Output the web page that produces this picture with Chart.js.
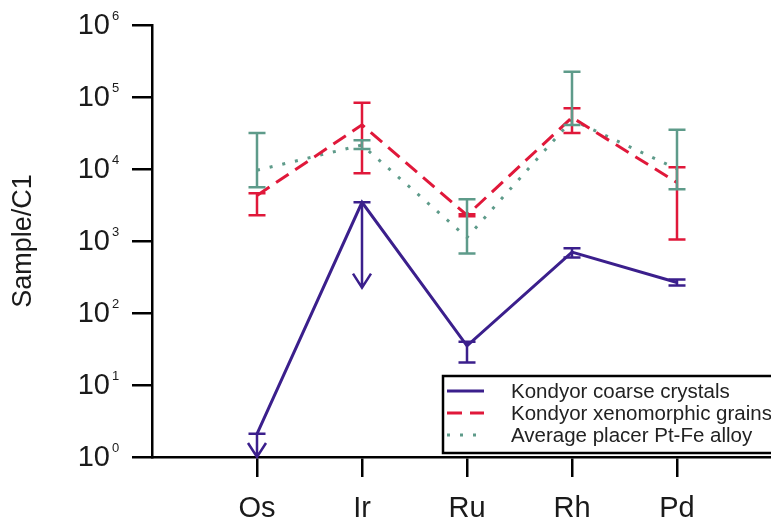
<!DOCTYPE html>
<html>
<head>
<meta charset="utf-8">
<script src="https://cdn.jsdelivr.net/npm/chart.js@4"></script>
<style>
  html, body { margin: 0; padding: 0; background: #fff; overflow: hidden; }
</style>
</head>
<body>
<canvas id="chart" width="771" height="521"></canvas>
<script>
// categories and values
const categories = ["Os", "Ir", "Ru", "Rh", "Pd"];
const yTicks = [1, 10, 100, 1000, 10000, 100000, 1000000];

const coarse = [2.1, 3450, 35, 700, 265];
const coarseLow = [1, 225, 20.5, 590, 240];
const coarseHigh = [2.1, 3450, 40, 790, 292];
const coarseArrow = [true, true, false, false, false];

const xeno = [4300, 41000, 2280, 52000, 6500];
const xenoLow = [2270, 8700, 2200, 31500, 1050];
const xenoHigh = [4600, 83000, 2350, 70000, 10600];

const placer = [9600, 21500, 1120, 48000, 10000];
const placerLow = [5600, 19000, 670, 41000, 5250];
const placerHigh = [31500, 25000, 3800, 224000, 35000];

const BLUE = "#3b1f8c";
const RED = "#e0183a";
const GREEN = "#5e9b8a";
const FONT = "'Liberation Sans', Arial, sans-serif";

const toPoints = (arr) => arr.map((v, i) => ({ x: i + 1, y: v }));

// error bars + upper-limit arrows
const errorBars = {
  id: "errorBars",
  afterDatasetsDraw(chart) {
    const ctx = chart.ctx;
    const ys = chart.scales.y;
    chart.data.datasets.forEach((ds, di) => {
      const meta = chart.getDatasetMeta(di);
      meta.data.forEach((pt, i) => {
        const x = pt.x;
        const yHi = ys.getPixelForValue(ds.errHigh[i]);
        const yLo = ys.getPixelForValue(ds.errLow[i]);
        const arrow = ds.arrow && ds.arrow[i];
        ctx.save();
        ctx.strokeStyle = ds.borderColor;
        ctx.lineWidth = 2.5;
        ctx.setLineDash([]);
        ctx.beginPath();
        ctx.moveTo(x, yHi);
        ctx.lineTo(x, yLo);
        ctx.moveTo(x - 8.5, yHi);
        ctx.lineTo(x + 8.5, yHi);
        if (arrow) {
          ctx.moveTo(x - 9, yLo - 14);
          ctx.lineTo(x, yLo);
          ctx.lineTo(x + 9, yLo - 14);
        } else {
          ctx.moveTo(x - 8.5, yLo);
          ctx.lineTo(x + 8.5, yLo);
        }
        ctx.stroke();
        ctx.restore();
      });
    });
  }
};

// y tick labels as 10 with superscript, axis title, boxed legend
const overlay = {
  id: "overlay",
  afterDraw(chart) {
    const ctx = chart.ctx;
    const ys = chart.scales.y;
    ctx.save();
    ctx.fillStyle = "#1a1a1a";
    yTicks.forEach((v) => {
      const y = ys.getPixelForValue(v);
      ctx.font = "29px " + FONT;
      ctx.textAlign = "right";
      ctx.textBaseline = "middle";
      ctx.fillText("10", 110, y + 1);
      ctx.font = "13px " + FONT;
      ctx.textAlign = "left";
      ctx.fillText(String(Math.round(Math.log10(v))), 112, y - 9);
    });

    // axis title
    ctx.save();
    ctx.translate(31, 241);
    ctx.rotate(-Math.PI / 2);
    ctx.font = "27px " + FONT;
    ctx.textAlign = "center";
    ctx.textBaseline = "alphabetic";
    ctx.fillText("Sample/C1", 0, 0);
    ctx.restore();

    // legend box
    const bx = 443, by = 376, bw = 340, bh = 77;
    ctx.fillStyle = "#fff";
    ctx.fillRect(bx, by, bw, bh);
    ctx.strokeStyle = "#000";
    ctx.lineWidth = 2.5;
    ctx.strokeRect(bx, by, bw, bh);
    chart.data.datasets.forEach((ds, i) => {
      const y = 391 + i * 22;
      ctx.strokeStyle = ds.borderColor;
      ctx.lineWidth = ds.borderWidth;
      ctx.setLineDash(ds.borderDash || []);
      ctx.lineCap = "butt";
      ctx.beginPath();
      ctx.moveTo(447, y);
      ctx.lineTo(484, y);
      ctx.stroke();
      ctx.setLineDash([]);
      ctx.fillStyle = "#222";
      ctx.font = "20.5px " + FONT;
      ctx.textAlign = "left";
      ctx.textBaseline = "middle";
      ctx.fillText(ds.label, 511, y + 1);
    });
    ctx.restore();
  }
};

new Chart(document.getElementById("chart"), {
  type: "line",
  data: {
    datasets: [
      {
        label: "Kondyor coarse crystals",
        data: toPoints(coarse),
        errLow: coarseLow,
        errHigh: coarseHigh,
        arrow: coarseArrow,
        borderColor: BLUE,
        borderWidth: 3,
        pointRadius: 0,
        fill: false
      },
      {
        label: "Kondyor xenomorphic grains",
        data: toPoints(xeno),
        errLow: xenoLow,
        errHigh: xenoHigh,
        borderColor: RED,
        borderWidth: 3,
        borderDash: [15, 8],
        pointRadius: 0,
        fill: false
      },
      {
        label: "Average placer Pt-Fe alloy",
        data: toPoints(placer),
        errLow: placerLow,
        errHigh: placerHigh,
        borderColor: GREEN,
        borderWidth: 3,
        borderDash: [3, 10],
        pointRadius: 0,
        fill: false
      }
    ]
  },
  options: {
    responsive: false,
    animation: false,
    events: [],
    layout: { padding: { top: 25, left: 0, right: 0, bottom: 0 } },
    plugins: {
      legend: { display: false },
      tooltip: { enabled: false }
    },
    scales: {
      x: {
        type: "linear",
        min: 0,
        max: 619 / 105,
        afterBuildTicks: (scale) => {
          scale.ticks = categories.map((c, i) => ({ value: i + 1 }));
        },
        afterFit: (scale) => { scale.height = 64; },
        grid: { drawOnChartArea: false, drawTicks: true, tickLength: 20, color: "#000", lineWidth: 2.5 },
        border: { color: "#000", width: 2.5 },
        ticks: {
          autoSkip: false,
          maxRotation: 0,
          padding: 15,
          color: "#1a1a1a",
          font: { family: FONT, size: 29 },
          callback: (v) => categories[Math.round(v) - 1] || ""
        }
      },
      y: {
        type: "logarithmic",
        min: 1,
        max: 1000000,
        afterBuildTicks: (scale) => {
          scale.ticks = yTicks.map((v) => ({ value: v }));
        },
        afterFit: (scale) => { scale.width = 152; },
        grid: { drawOnChartArea: false, drawTicks: true, tickLength: 20, color: "#000", lineWidth: 2.5 },
        border: { color: "#000", width: 2.5 },
        ticks: { display: false }
      }
    }
  },
  plugins: [errorBars, overlay]
});
</script>
</body>
</html>
